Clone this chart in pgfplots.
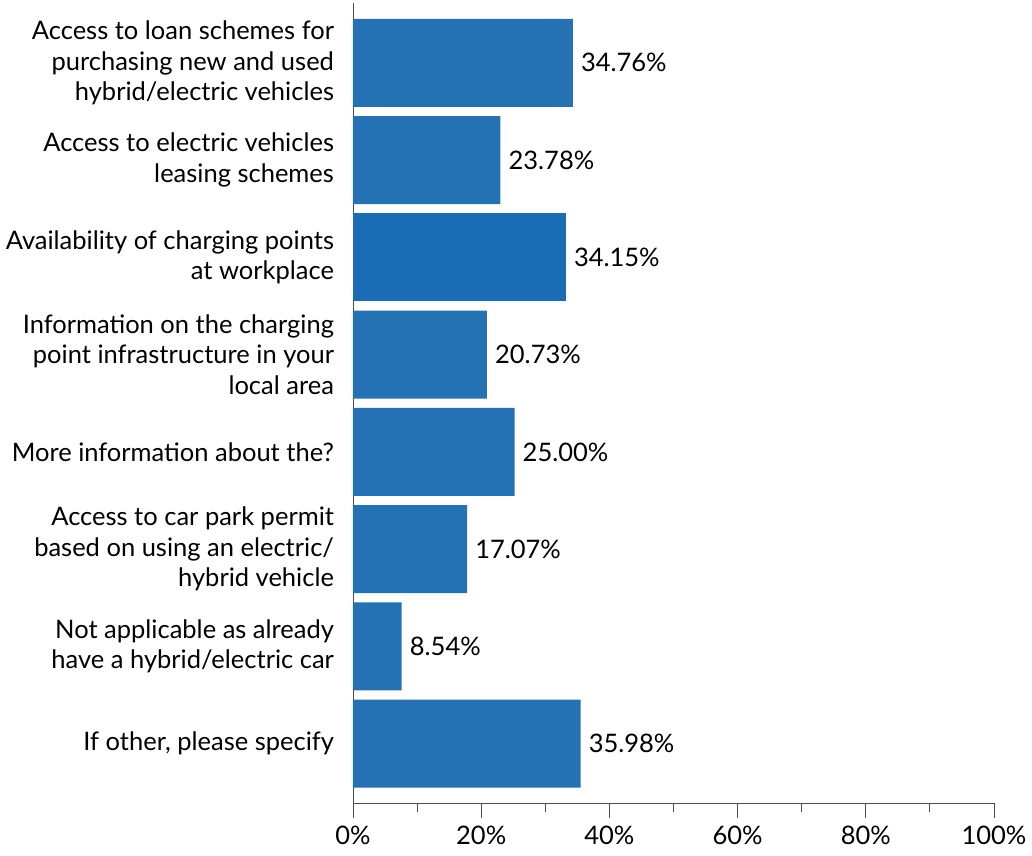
\documentclass[border=0pt]{standalone}
\usepackage{fontspec}
\setmainfont{Lato}
\usepackage{pgfplots}
\usepackage{pgfplotstable}
\pgfplotsset{compat=1.18}
\definecolor{barblue}{HTML}{2471B3}
\definecolor{bardark}{HTML}{1A6DB5}
\definecolor{axgray}{HTML}{4D4D4D}
% bar length as drawn, value as labelled
\pgfplotstableread{
len   pos lab
34.3  0   34.76
23.0  1   23.78
20.9  3   20.73
25.2  4   25.00
17.8  5   17.07
7.6   6   8.54
35.5  7   35.98
}\maindata
\pgfplotstableread{
len   pos lab
33.2  2   34.15
}\darkdata
\begin{document}
\begin{tikzpicture}
\begin{axis}[
  at={(0,0)}, anchor=south west,
  scale only axis,
  width=641pt, height=800pt,
  xbar, bar shift=0pt, bar width=0.905,
  xmin=0, xmax=100,
  ymin=-0.615, ymax=7.61,
  y dir=reverse,
  axis x line=bottom, axis y line=left,
  axis line style={-, draw=axgray, line width=0.9pt},
  ytick={0,1,2,3,4,5,6,7},
  yticklabels={
    {Access to loan schemes for\\purchasing new and used\\hybrid/electric vehicles},
    {Access to electric vehicles\\leasing schemes},
    {Availability of charging points\\at workplace},
    {Information on the charging\\point infrastructure in your\\local area},
    {More information about the?},
    {Access to car park permit\\based on using an electric/\\hybrid vehicle},
    {Not applicable as already\\have a hybrid/electric car},
    {If other, please specify}},
  yticklabel style={align=right, font=\fontsize{25.5}{30.5}\selectfont, text=black, xshift=-8pt},
  ytick style={draw=none},
  xtick={0,20,40,60,80,100},
  xticklabels={0\%,20\%,40\%,60\%,80\%,100\%},
  minor xtick={10,30,50,70,90},
  xtick align=outside,
  major tick length=15pt, minor tick length=9pt,
  xtick style={draw=axgray, line width=0.9pt},
  xticklabel style={font=\fontsize{25.5}{30}\selectfont, text=black, yshift=-4pt},
  /pgf/number format/assume math mode=true,
  point meta=explicit,
  nodes near coords={\pgfmathprintnumber[fixed,fixed zerofill,precision=2,assume math mode=true]{\pgfplotspointmeta}\%},
  nodes near coords style={anchor=west, font=\fontsize{25.5}{30}\selectfont, text=black, inner sep=0pt, xshift=8pt},
  clip=false,
]
\addplot[fill=barblue, draw=none] table[x=len, y=pos, meta=lab] {\maindata};
\addplot[fill=bardark, draw=none] table[x=len, y=pos, meta=lab] {\darkdata};
\end{axis}
\pgfresetboundingbox
\path (-353pt,-52pt) rectangle (679pt,803pt);
\end{tikzpicture}
\end{document}
